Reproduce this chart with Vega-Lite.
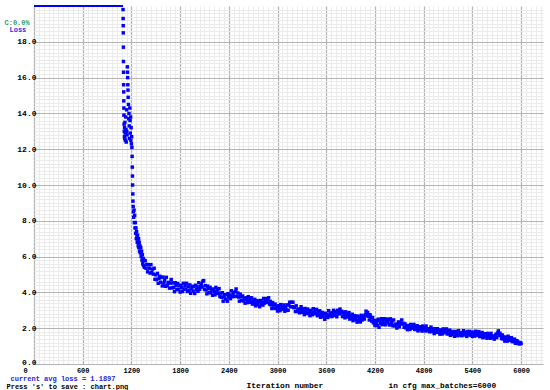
{
 "$schema": "https://vega.github.io/schema/vega-lite/v6.json",
 "width": 509,
 "height": 358,
 "autosize": {"type": "none"},
 "padding": {"left": 34, "top": 6, "right": 7, "bottom": 26},
 "background": "white",
 "config": {
  "view": {"stroke": null},
  "axis": {"domain": false, "ticks": false, "labelFont": "Liberation Mono", "titleFont": "Liberation Mono", "labelFontWeight": "bold", "titleFontWeight": "bold", "labelColor": "#000000", "titleColor": "#000000", "labelFlush": false, "labelOverlap": false}
 },
 "datasets": {
  "clipped": [{"i": 0, "l": 20}, {"i": 1096, "l": 20}],
  "loss": [
{"i":1097,"l":19.8},{"i":1098,"l":19.3},{"i":1099,"l":18.9},{"i":1100,"l":18.5},{"i":1101,"l":17.7},{"i":1102,"l":16.9},{"i":1103,"l":16.3},{"i":1104,"l":15.6},{"i":1105,"l":15.2},{"i":1106,"l":14.7},{"i":1107,"l":14.3},{"i":1108,"l":13.9},{"i":1110,"l":13.4},{"i":1112,"l":13.0},{"i":1114,"l":12.7},{"i":1116,"l":13.2},{"i":1118,"l":12.6},{"i":1120,"l":13.5},{"i":1123,"l":12.9},{"i":1126,"l":12.5},{"i":1130,"l":13.8},{"i":1133,"l":13.1},{"i":1136,"l":12.4},{"i":1140,"l":14.2},{"i":1143,"l":13.0},{"i":1146,"l":12.8},{"i":1150,"l":16.6},{"i":1152,"l":16.3},{"i":1154,"l":16.0},{"i":1156,"l":15.6},{"i":1158,"l":15.3},{"i":1160,"l":14.9},{"i":1163,"l":14.5},{"i":1166,"l":13.7},{"i":1170,"l":14.0},{"i":1173,"l":13.3},{"i":1176,"l":12.6},{"i":1180,"l":14.3},{"i":1183,"l":13.6},{"i":1186,"l":12.9},{"i":1190,"l":13.8},{"i":1193,"l":12.5},{"i":1196,"l":13.2},{"i":1200,"l":12.3},{"i":1203,"l":12.7},{"i":1206,"l":12.1},{"i":1209,"l":11.6},{"i":1211,"l":11.0},{"i":1213,"l":10.5},{"i":1215,"l":10.0},{"i":1217,"l":9.5},{"i":1219,"l":9.1},{"i":1222,"l":8.8},{"i":1225,"l":8.5},{"i":1228,"l":8.2},{"i":1232,"l":8.6},{"i":1236,"l":7.9},{"i":1240,"l":8.3},{"i":1244,"l":7.6},{"i":1248,"l":7.9},{"i":1252,"l":7.3},{"i":1256,"l":7.6},{"i":1260,"l":7.0},{"i":1264,"l":7.4},{"i":1268,"l":7.1},{"i":1272,"l":6.8},{"i":1276,"l":7.2},{"i":1280,"l":6.9},{"i":1284,"l":6.6},{"i":1288,"l":7.0},{"i":1292,"l":6.5},{"i":1296,"l":6.8},{"i":1300,"l":6.3},{"i":1305,"l":6.6},{"i":1310,"l":6.2},{"i":1315,"l":6.5},{"i":1320,"l":6.0},{"i":1325,"l":6.3},{"i":1330,"l":5.8},{"i":1335,"l":6.1},{"i":1340,"l":5.6},{"i":1345,"l":5.9},{"i":1350,"l":5.5},{"i":1355,"l":5.8},{"i":1360,"l":5.4},
{"i":1370,"l":5.77},{"i":1380,"l":5.35},{"i":1390,"l":5.56},{"i":1400,"l":5.15},{"i":1410,"l":5.55},{"i":1420,"l":5.35},{"i":1430,"l":5.08},{"i":1440,"l":5.55},{"i":1450,"l":5.12},{"i":1460,"l":5.30},
{"i":1470,"l":5.02},{"i":1480,"l":5.35},{"i":1490,"l":4.73},{"i":1500,"l":4.98},{"i":1510,"l":4.72},{"i":1520,"l":5.06},{"i":1530,"l":4.51},{"i":1540,"l":4.78},{"i":1550,"l":4.90},{"i":1560,"l":4.57},
{"i":1570,"l":4.84},{"i":1580,"l":4.36},{"i":1590,"l":4.85},{"i":1600,"l":4.52},{"i":1610,"l":4.66},{"i":1620,"l":4.34},{"i":1630,"l":4.84},{"i":1640,"l":4.37},{"i":1650,"l":4.50},{"i":1660,"l":4.56},
{"i":1670,"l":4.24},{"i":1680,"l":4.52},{"i":1690,"l":4.72},{"i":1700,"l":4.25},{"i":1710,"l":4.53},{"i":1720,"l":4.28},{"i":1730,"l":4.04},{"i":1740,"l":4.54},{"i":1750,"l":4.38},{"i":1760,"l":4.15},
{"i":1770,"l":4.50},{"i":1780,"l":4.17},{"i":1790,"l":4.37},{"i":1800,"l":4.02},{"i":1810,"l":4.40},{"i":1820,"l":4.26},{"i":1830,"l":4.05},{"i":1840,"l":4.51},{"i":1850,"l":4.18},{"i":1860,"l":4.38},
{"i":1870,"l":4.18},{"i":1880,"l":4.51},{"i":1890,"l":4.05},{"i":1900,"l":4.31},{"i":1910,"l":4.10},{"i":1920,"l":4.42},{"i":1930,"l":3.95},{"i":1940,"l":4.20},{"i":1950,"l":4.33},{"i":1960,"l":4.07},
{"i":1970,"l":4.33},{"i":1980,"l":3.94},{"i":1990,"l":4.40},{"i":2000,"l":4.15},{"i":2010,"l":4.31},{"i":2020,"l":4.06},{"i":2030,"l":4.54},{"i":2040,"l":4.17},{"i":2050,"l":4.32},{"i":2060,"l":4.47},
{"i":2070,"l":4.30},{"i":2080,"l":4.62},{"i":2090,"l":4.66},{"i":2100,"l":4.17},{"i":2110,"l":4.38},{"i":2120,"l":4.13},{"i":2130,"l":3.92},{"i":2140,"l":4.35},{"i":2150,"l":4.21},{"i":2160,"l":3.99},
{"i":2170,"l":4.28},{"i":2180,"l":3.98},{"i":2190,"l":4.16},{"i":2200,"l":3.84},{"i":2210,"l":4.19},{"i":2220,"l":4.06},{"i":2230,"l":3.87},{"i":2240,"l":4.28},{"i":2250,"l":3.97},{"i":2260,"l":4.14},
{"i":2270,"l":3.94},{"i":2280,"l":4.21},{"i":2290,"l":3.77},{"i":2300,"l":3.96},{"i":2310,"l":3.73},{"i":2320,"l":3.98},{"i":2330,"l":3.51},{"i":2340,"l":3.75},{"i":2350,"l":3.87},{"i":2360,"l":3.63},
{"i":2370,"l":3.87},{"i":2380,"l":3.51},{"i":2390,"l":3.93},{"i":2400,"l":3.71},{"i":2410,"l":3.86},{"i":2420,"l":3.65},{"i":2430,"l":4.09},{"i":2440,"l":3.76},{"i":2450,"l":3.90},{"i":2460,"l":3.99},
{"i":2470,"l":3.77},{"i":2480,"l":4.06},{"i":2490,"l":4.19},{"i":2500,"l":3.78},{"i":2510,"l":3.97},{"i":2520,"l":3.74},{"i":2530,"l":3.51},{"i":2540,"l":3.90},{"i":2550,"l":3.76},{"i":2560,"l":3.56},
{"i":2570,"l":3.80},{"i":2580,"l":3.52},{"i":2590,"l":3.65},{"i":2600,"l":3.40},{"i":2610,"l":3.70},{"i":2620,"l":3.60},{"i":2630,"l":3.43},{"i":2640,"l":3.76},{"i":2650,"l":3.49},{"i":2660,"l":3.62},
{"i":2670,"l":3.45},{"i":2680,"l":3.70},{"i":2690,"l":3.35},{"i":2700,"l":3.53},{"i":2710,"l":3.37},{"i":2720,"l":3.61},{"i":2730,"l":3.25},{"i":2740,"l":3.44},{"i":2750,"l":3.53},{"i":2760,"l":3.32},
{"i":2770,"l":3.51},{"i":2780,"l":3.20},{"i":2790,"l":3.55},{"i":2800,"l":3.35},{"i":2810,"l":3.47},{"i":2820,"l":3.29},{"i":2830,"l":3.66},{"i":2840,"l":3.40},{"i":2850,"l":3.55},{"i":2860,"l":3.65},
{"i":2870,"l":3.45},{"i":2880,"l":3.60},{"i":2890,"l":3.70},{"i":2900,"l":3.35},{"i":2910,"l":3.50},{"i":2920,"l":3.30},{"i":2930,"l":3.10},{"i":2940,"l":3.43},{"i":2950,"l":3.30},{"i":2960,"l":3.12},
{"i":2970,"l":3.35},{"i":2980,"l":3.10},{"i":2990,"l":3.23},{"i":3000,"l":2.96},{"i":3010,"l":3.25},{"i":3020,"l":3.14},{"i":3030,"l":2.98},{"i":3040,"l":3.32},{"i":3050,"l":3.06},{"i":3060,"l":3.20},
{"i":3070,"l":3.05},{"i":3080,"l":3.30},{"i":3090,"l":2.95},{"i":3100,"l":3.15},{"i":3110,"l":3.02},{"i":3120,"l":3.30},{"i":3130,"l":3.00},{"i":3140,"l":3.30},{"i":3150,"l":3.45},{"i":3160,"l":3.20},
{"i":3170,"l":3.45},{"i":3180,"l":3.20},{"i":3190,"l":3.45},{"i":3200,"l":3.15},{"i":3210,"l":3.17},{"i":3220,"l":2.93},{"i":3230,"l":3.25},{"i":3240,"l":2.94},{"i":3250,"l":3.03},{"i":3260,"l":3.07},
{"i":3270,"l":2.86},{"i":3280,"l":3.05},{"i":3290,"l":3.20},{"i":3300,"l":2.89},{"i":3310,"l":3.08},{"i":3320,"l":2.92},{"i":3330,"l":2.76},{"i":3340,"l":3.10},{"i":3350,"l":2.99},{"i":3360,"l":2.83},
{"i":3370,"l":3.07},{"i":3380,"l":2.81},{"i":3390,"l":2.95},{"i":3400,"l":2.70},{"i":3410,"l":3.00},{"i":3420,"l":2.90},{"i":3430,"l":2.75},{"i":3440,"l":3.09},{"i":3450,"l":2.83},{"i":3460,"l":2.97},
{"i":3470,"l":2.81},{"i":3480,"l":3.05},{"i":3490,"l":2.70},{"i":3500,"l":2.89},{"i":3510,"l":2.73},{"i":3520,"l":2.97},{"i":3530,"l":2.61},{"i":3540,"l":2.80},{"i":3550,"l":2.88},{"i":3560,"l":2.66},
{"i":3570,"l":2.82},{"i":3580,"l":2.50},{"i":3590,"l":2.83},{"i":3600,"l":2.65},{"i":3610,"l":2.77},{"i":3620,"l":2.60},{"i":3630,"l":2.98},{"i":3640,"l":2.70},{"i":3650,"l":2.80},{"i":3660,"l":2.85},
{"i":3670,"l":2.65},{"i":3680,"l":2.85},{"i":3690,"l":3.00},{"i":3700,"l":2.71},{"i":3710,"l":2.92},{"i":3720,"l":2.78},{"i":3730,"l":2.64},{"i":3740,"l":3.00},{"i":3750,"l":2.92},{"i":3760,"l":2.80},
{"i":3770,"l":3.07},{"i":3780,"l":2.85},{"i":3790,"l":2.95},{"i":3800,"l":2.65},{"i":3810,"l":2.90},{"i":3820,"l":2.76},{"i":3830,"l":2.58},{"i":3840,"l":2.91},{"i":3850,"l":2.65},{"i":3860,"l":2.79},
{"i":3870,"l":2.63},{"i":3880,"l":2.87},{"i":3890,"l":2.51},{"i":3900,"l":2.70},{"i":3910,"l":2.54},{"i":3920,"l":2.78},{"i":3930,"l":2.42},{"i":3940,"l":2.61},{"i":3950,"l":2.70},{"i":3960,"l":2.48},
{"i":3970,"l":2.66},{"i":3980,"l":2.34},{"i":3990,"l":2.67},{"i":4000,"l":2.45},{"i":4010,"l":2.55},{"i":4020,"l":2.35},{"i":4030,"l":2.72},{"i":4040,"l":2.45},{"i":4050,"l":2.58},{"i":4060,"l":2.67},
{"i":4070,"l":2.51},{"i":4080,"l":2.75},{"i":4090,"l":2.95},{"i":4100,"l":2.70},{"i":4110,"l":2.88},{"i":4120,"l":2.67},{"i":4130,"l":2.46},{"i":4140,"l":2.75},{"i":4150,"l":2.60},{"i":4160,"l":2.40},
{"i":4170,"l":2.60},{"i":4180,"l":2.30},{"i":4190,"l":2.42},{"i":4200,"l":2.15},{"i":4210,"l":2.43},{"i":4220,"l":2.31},{"i":4230,"l":2.15},{"i":4240,"l":2.50},{"i":4250,"l":2.05},{"i":4260,"l":2.41},
{"i":4270,"l":2.27},{"i":4280,"l":2.53},{"i":4290,"l":2.20},{"i":4300,"l":2.41},{"i":4310,"l":2.27},{"i":4320,"l":2.53},{"i":4330,"l":2.19},{"i":4340,"l":2.40},{"i":4350,"l":2.50},{"i":4360,"l":2.30},
{"i":4370,"l":2.49},{"i":4380,"l":2.18},{"i":4390,"l":2.52},{"i":4400,"l":2.30},{"i":4410,"l":2.37},{"i":4420,"l":2.14},{"i":4430,"l":2.46},{"i":4440,"l":2.13},{"i":4450,"l":2.20},{"i":4460,"l":2.23},
{"i":4470,"l":2.01},{"i":4480,"l":2.20},{"i":4490,"l":2.35},{"i":4500,"l":2.08},{"i":4510,"l":2.32},{"i":4520,"l":2.23},{"i":4530,"l":2.46},{"i":4540,"l":2.25},{"i":4550,"l":2.27},{"i":4560,"l":2.05},
{"i":4570,"l":2.24},{"i":4580,"l":2.02},{"i":4590,"l":2.13},{"i":4600,"l":1.92},{"i":4610,"l":2.15},{"i":4620,"l":2.06},{"i":4630,"l":1.93},{"i":4640,"l":2.21},{"i":4650,"l":2.01},{"i":4660,"l":2.13},
{"i":4670,"l":2.01},{"i":4680,"l":2.21},{"i":4690,"l":1.93},{"i":4700,"l":2.08},{"i":4710,"l":1.95},{"i":4720,"l":2.14},{"i":4730,"l":1.85},{"i":4740,"l":2.00},{"i":4750,"l":2.08},{"i":4760,"l":1.92},
{"i":4770,"l":2.08},{"i":4780,"l":1.84},{"i":4790,"l":2.12},{"i":4800,"l":1.95},{"i":4810,"l":2.02},{"i":4820,"l":1.85},{"i":4830,"l":2.12},{"i":4840,"l":1.87},{"i":4850,"l":1.94},{"i":4860,"l":1.97},
{"i":4870,"l":1.80},{"i":4880,"l":1.95},{"i":4890,"l":2.06},{"i":4900,"l":1.81},{"i":4910,"l":1.96},{"i":4920,"l":1.83},{"i":4930,"l":1.70},{"i":4940,"l":1.97},{"i":4950,"l":1.89},{"i":4960,"l":1.77},
{"i":4970,"l":1.97},{"i":4980,"l":1.77},{"i":4990,"l":1.88},{"i":5000,"l":1.67},{"i":5010,"l":1.90},{"i":5020,"l":1.81},{"i":5030,"l":1.68},{"i":5040,"l":1.96},{"i":5050,"l":1.76},{"i":5060,"l":1.88},
{"i":5070,"l":1.76},{"i":5080,"l":1.96},{"i":5090,"l":1.68},{"i":5100,"l":1.83},{"i":5110,"l":1.70},{"i":5120,"l":1.89},{"i":5130,"l":1.60},{"i":5140,"l":1.75},{"i":5150,"l":1.82},{"i":5160,"l":1.65},
{"i":5170,"l":1.80},{"i":5180,"l":1.55},{"i":5190,"l":1.82},{"i":5200,"l":1.66},{"i":5210,"l":1.74},{"i":5220,"l":1.58},{"i":5230,"l":1.86},{"i":5240,"l":1.62},{"i":5250,"l":1.70},{"i":5260,"l":1.74},
{"i":5270,"l":1.58},{"i":5280,"l":1.74},{"i":5290,"l":1.86},{"i":5300,"l":1.62},{"i":5310,"l":1.78},{"i":5320,"l":1.66},{"i":5330,"l":1.54},{"i":5340,"l":1.82},{"i":5350,"l":1.74},{"i":5360,"l":1.62},
{"i":5370,"l":1.82},{"i":5380,"l":1.62},{"i":5390,"l":1.74},{"i":5400,"l":1.54},{"i":5410,"l":1.78},{"i":5420,"l":1.69},{"i":5430,"l":1.56},{"i":5440,"l":1.83},{"i":5450,"l":1.62},{"i":5460,"l":1.73},
{"i":5470,"l":1.61},{"i":5480,"l":1.81},{"i":5490,"l":1.53},{"i":5500,"l":1.69},{"i":5510,"l":1.57},{"i":5520,"l":1.76},{"i":5530,"l":1.47},{"i":5540,"l":1.62},{"i":5550,"l":1.69},{"i":5560,"l":1.52},
{"i":5570,"l":1.68},{"i":5580,"l":1.44},{"i":5590,"l":1.71},{"i":5600,"l":1.54},{"i":5610,"l":1.61},{"i":5620,"l":1.44},{"i":5630,"l":1.71},{"i":5640,"l":1.46},{"i":5650,"l":1.53},{"i":5660,"l":1.56},
{"i":5670,"l":1.39},{"i":5680,"l":1.54},{"i":5690,"l":1.66},{"i":5700,"l":1.47},{"i":5710,"l":1.73},{"i":5720,"l":1.85},{"i":5730,"l":1.60},{"i":5740,"l":1.72},{"i":5750,"l":1.59},{"i":5760,"l":1.42},
{"i":5770,"l":1.62},{"i":5780,"l":1.40},{"i":5790,"l":1.50},{"i":5800,"l":1.28},{"i":5810,"l":1.50},{"i":5820,"l":1.41},{"i":5830,"l":1.28},{"i":5840,"l":1.55},{"i":5850,"l":1.34},{"i":5860,"l":1.45},
{"i":5870,"l":1.33},{"i":5880,"l":1.47},{"i":5890,"l":1.25},{"i":5900,"l":1.36},{"i":5910,"l":1.26},{"i":5920,"l":1.39},{"i":5930,"l":1.16},{"i":5940,"l":1.26},{"i":5950,"l":1.30},{"i":5960,"l":1.15},
{"i":5970,"l":1.22},{"i":5980,"l":1.12},{"i":5990,"l":1.18},{"i":6000,"l":1.15}
  ]
 },
 "layer": [
  {
   "data": {"name": "clipped"},
   "mark": {"type": "line", "color": "#0000ff", "strokeWidth": 2, "clip": false},
   "encoding": {
    "x": {"field": "i", "type": "quantitative", "scale": {"domain": [0, 6270], "nice": false, "zero": false},
     "axis": {"orient": "bottom", "grid": true, "gridColor": "#ebebeb", "gridWidth": 1, "labels": false,
      "values": [60,120,180,240,300,360,420,480,540,660,720,780,840,900,960,1020,1080,1140,1260,1320,1380,1440,1500,1560,1620,1680,1740,1860,1920,1980,2040,2100,2160,2220,2280,2340,2460,2520,2580,2640,2700,2760,2820,2880,2940,3060,3120,3180,3240,3300,3360,3420,3480,3540,3660,3720,3780,3840,3900,3960,4020,4080,4140,4260,4320,4380,4440,4500,4560,4620,4680,4740,4860,4920,4980,5040,5100,5160,5220,5280,5340,5460,5520,5580,5640,5700,5760,5820,5880,5940,6060,6120,6180,6240],
      "title": "current avg loss = 1.1897", "titleColor": "#2424d8", "titleFontSize": 7, "titleX": -24, "titleY": 14, "titleAlign": "left", "titleAnchor": "start", "titleBaseline": "middle", "titleAngle": 0}},
    "y": {"field": "l", "type": "quantitative", "scale": {"domain": [0, 20], "nice": false, "zero": false},
     "axis": {"orient": "left", "grid": true, "gridColor": "#ebebeb", "gridWidth": 1, "labels": false,
      "values": [0.2,0.4,0.6,0.8,1,1.2,1.4,1.6,1.8,2.2,2.4,2.6,2.8,3,3.2,3.4,3.6,3.8,4.2,4.4,4.6,4.8,5,5.2,5.4,5.6,5.8,6.2,6.4,6.6,6.8,7,7.2,7.4,7.6,7.8,8.2,8.4,8.6,8.8,9,9.2,9.4,9.6,9.8,10.2,10.4,10.6,10.8,11,11.2,11.4,11.6,11.8,12.2,12.4,12.6,12.8,13,13.2,13.4,13.6,13.8,14.2,14.4,14.6,14.8,15,15.2,15.4,15.6,15.8,16.2,16.4,16.6,16.8,17,17.2,17.4,17.6,17.8,18.2,18.4,18.6,18.8,19,19.2,19.4,19.6,19.8],
      "title": "Loss", "titleColor": "#2b2be0", "titleFontSize": 7, "titleX": -25, "titleY": 23, "titleAlign": "left", "titleAnchor": "start", "titleBaseline": "middle", "titleAngle": 0}}
   }
  },
  {
   "data": {"name": "loss"},
   "mark": {"type": "point", "shape": "square", "filled": true, "size": 12, "color": "#0000ff", "opacity": 1},
   "encoding": {
    "x": {"field": "i", "type": "quantitative",
     "axis": {"orient": "bottom", "grid": true, "gridColor": "#b4b4b4", "gridWidth": 1.3, "labels": true,
      "values": [0,600,1200,1800,2400,3000,3600,4200,4800,5400,6000], "format": "d",
      "labelFontSize": 7, "labelBaseline": "top", "labelPadding": 2, "labelAlign": "center",
      "labelOffset": {"condition": {"test": "datum.value == 0", "value": -9}, "value": 0},
      "title": "Iteration number", "titleFontSize": 8, "titleX": 212, "titleY": 21, "titleAlign": "left", "titleAnchor": "start", "titleBaseline": "middle", "titleAngle": 0}},
    "y": {"field": "l", "type": "quantitative",
     "axis": {"orient": "left", "grid": true, "gridColor": "#b4b4b4", "gridWidth": 1, "labels": true,
      "values": [0,2,4,6,8,10,12,14,16,18], "format": ".1f",
      "labelFontSize": 8, "labelAlign": "right", "labelPadding": -2,
      "labelBaseline": {"condition": {"test": "datum.value == 0", "value": "bottom"}, "value": "middle"},
      "labelOffset": {"condition": {"test": "datum.value == 0", "value": 2}, "value": 0},
      "title": "C:0.0%", "titleColor": "#1fa36c", "titleFontSize": 7, "titleX": -30, "titleY": 16, "titleAlign": "left", "titleAnchor": "start", "titleBaseline": "middle", "titleAngle": 0}}
   }
  },
  {
   "mark": {"type": "rule", "color": "#9fe3c4", "strokeWidth": 2},
   "encoding": {
    "x": {"datum": 0, "type": "quantitative",
     "axis": {"orient": "bottom", "grid": false, "labels": false,
      "title": "Press 's' to save : chart.png", "titleFontSize": 7, "titleX": -28, "titleY": 22, "titleAlign": "left", "titleAnchor": "start", "titleBaseline": "middle", "titleAngle": 0}},
    "x2": {"datum": 6270},
    "y": {"datum": 0, "type": "quantitative",
     "axis": {"orient": "left", "grid": false, "labels": false,
      "title": "in cfg max_batches=6000", "titleFontSize": 7.8, "titleX": 354, "titleY": 379, "titleAlign": "left", "titleAnchor": "start", "titleBaseline": "middle", "titleAngle": 0}}
   }
  }
 ],
 "resolve": {"axis": {"x": "independent", "y": "independent"}}
}
